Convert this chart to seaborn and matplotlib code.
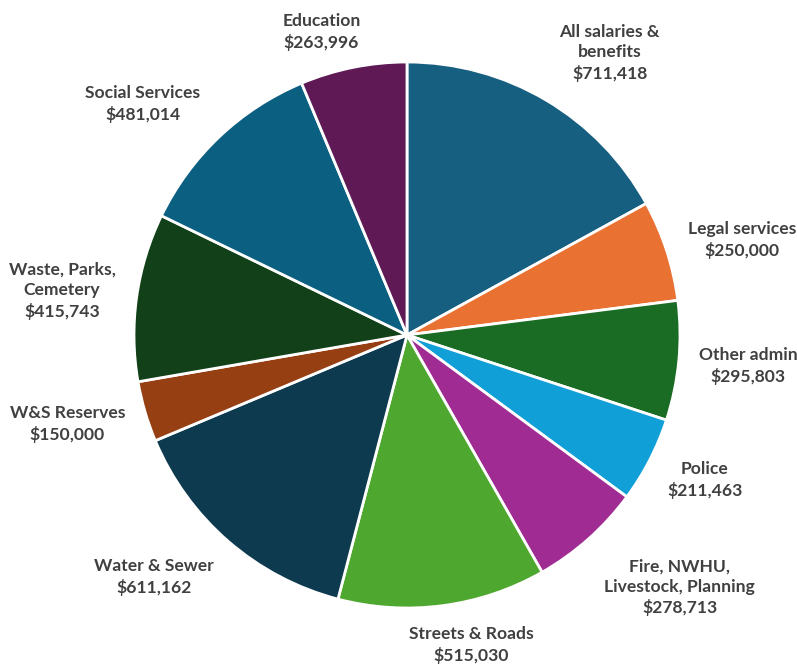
import numpy as np
import matplotlib
matplotlib.use("Agg")
import matplotlib.pyplot as plt
import seaborn as sns

categories = [
    "All salaries &\nbenefits", "Legal services", "Other admin", "Police",
    "Fire, NWHU,\nLivestock, Planning", "Streets & Roads", "Water & Sewer",
    "W&S Reserves", "Waste, Parks,\nCemetery", "Social Services", "Education",
]
amounts = [711418, 250000, 295803, 211463, 278713, 515030, 611162,
           150000, 415743, 481014, 263996]
colors = ["#175F80", "#E97232", "#1A6B24", "#109FD6", "#A02B93", "#4EA72E",
          "#0E3A50", "#953F13", "#124119", "#0B5F80", "#5F1A56"]
# label placement per slice: distance in pie radii, angle nudge in degrees
label_dist = [1.273, 1.275, 1.254, 1.214, 1.361, 1.159, 1.282, 1.286, 1.274, 1.285, 1.153]
label_nudge = [-5.1, -2.2, 0.2, 1.3, 5.6, 4.2, -5.3, -1.6, 0.7, 5.4, 4.4]

sns.set_theme(style="white")
plt.rcParams["font.family"] = ["Lato", "DejaVu Sans"]

fig = plt.figure(figsize=(7.97, 6.64), dpi=100)
ax = fig.add_axes([0, 0, 1, 1])

wedges, _ = ax.pie(
    amounts, colors=colors, startangle=90, counterclock=False,
    wedgeprops=dict(edgecolor="white", linewidth=2),
)

for w, cat, amt, d, nd in zip(wedges, categories, amounts, label_dist, label_nudge):
    ang = np.deg2rad((w.theta1 + w.theta2) / 2 + nd)
    ax.text(d * np.cos(ang), d * np.sin(ang), f"{cat}\n${amt:,}",
            ha="center", va="center", fontsize=12.6, fontweight="bold",
            color="#404040", linespacing=1.34)

px = 273.0
ax.set_xlim(-407 / px, (797 - 407) / px)
ax.set_ylim(-(664 - 335) / px, 335 / px)
ax.set_aspect("equal", adjustable="datalim")
ax.axis("off")

fig.savefig("out.png", dpi=100, facecolor="white")
